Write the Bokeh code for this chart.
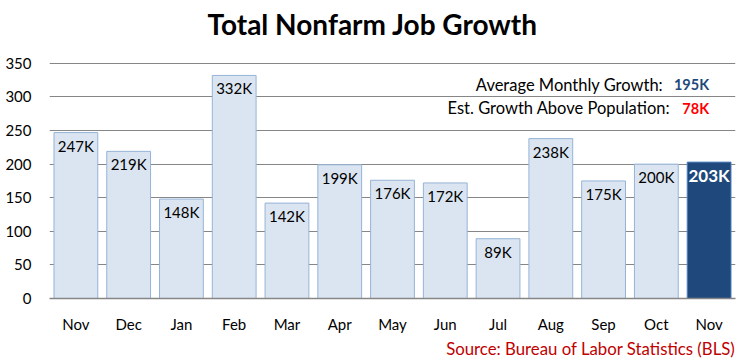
from bokeh.plotting import figure
from bokeh.models import ColumnDataSource, Range1d, FixedTicker, Label, Title
from bokeh.core.properties import value
from bokeh.embed import file_html
from bokeh.resources import INLINE

months = ["Nov", "Dec", "Jan", "Feb", "Mar", "Apr", "May", "Jun", "Jul", "Aug", "Sep", "Oct", "Nov"]
jobs = [247, 219, 148, 332, 142, 199, 176, 172, 89, 238, 175, 200, 203]
y_ticks = [0, 50, 100, 150, 200, 250, 300, 350]
avg_growth = "195K"
above_pop = "78K"

FONT = "Lato"
idx = list(range(len(months)))
labels = [f"{v}K" for v in jobs]

prev = ColumnDataSource(dict(x=idx[:-1], top=jobs[:-1], lab=labels[:-1]))
last = ColumnDataSource(dict(x=idx[-1:], top=jobs[-1:], lab=labels[-1:]))

p = figure(width=741, height=359, output_backend="svg", toolbar_location=None,
           x_range=Range1d(-0.5, len(months) - 0.5), y_range=Range1d(0, 384),
           min_border_left=49, min_border_right=6, min_border_top=40, min_border_bottom=61)
p.outline_line_color = None
p.background_fill_color = "white"

p.title.text = "Total Nonfarm Job Growth"
p.title.text_font = FONT
p.title.text_font_size = "28px"
p.title.text_font_style = "bold"
p.title.align = "left"
p.title.offset = 158
p.title.standoff = 0
p.title.text_color = "black"

p.vbar(x="x", top="top", width=0.83, source=prev, fill_color="#DBE5F1", line_color="#95B3D7", line_width=1)
p.vbar(x="x", top="top", width=0.83, source=last, fill_color="#1F497D", line_color="#4F81BD", line_width=1)

p.text(x="x", y="top", text="lab", source=prev, text_align="center", text_baseline="top", y_offset=4,
       text_font=value(FONT), text_font_size="15px", text_color="black")
p.text(x="x", y="top", text="lab", source=last, text_align="center", text_baseline="top", y_offset=3,
       text_font=value(FONT), text_font_size="17px", text_font_style="bold", text_color="white")

p.xaxis.ticker = FixedTicker(ticks=idx)
p.xaxis.major_label_overrides = {i: m for i, m in enumerate(months)}
p.xaxis.axis_line_color = "#868686"
p.xaxis.axis_line_width = 1.5
p.xaxis.major_tick_line_color = None
p.xaxis.minor_tick_line_color = None
p.xaxis.major_label_standoff = 10
p.xaxis.major_label_text_font = FONT
p.xaxis.major_label_text_font_size = "15px"
p.xaxis.major_label_text_color = "black"

p.yaxis.ticker = FixedTicker(ticks=y_ticks)
p.yaxis.axis_line_color = None
p.yaxis.major_tick_line_color = None
p.yaxis.minor_tick_line_color = None
p.yaxis.major_label_standoff = 12
p.yaxis.major_label_text_font = FONT
p.yaxis.major_label_text_font_size = "15px"
p.yaxis.major_label_text_color = "black"

p.xgrid.grid_line_color = None
p.ygrid.ticker = FixedTicker(ticks=y_ticks)
p.ygrid.grid_line_color = "#868686"
p.ygrid.grid_line_width = 1

def add_label(x, y, text, color="black", bold=False, xoff=0, size="16.5px"):
    p.add_layout(Label(x=x, y=y, text=text, text_align="right", text_baseline="middle", x_offset=xoff,
                       text_font=FONT, text_font_size=size, text_color=color,
                       text_font_style="bold" if bold else "normal"))

xr = len(months) - 1
add_label(xr, 318, avg_growth, color="#1F497D", bold=True, size="14.5px")
add_label(xr, 318, "Average Monthly Growth:", xoff=-46)
add_label(xr, 283, above_pop, color="#FF0000", bold=True, size="14.5px")
add_label(xr, 283, "Est. Growth Above Population:", xoff=-39)

src = Title(text="Source: Bureau of Labor Statistics (BLS)", align="right", text_font=FONT,
            text_font_size="16.8px", text_font_style="normal", text_color="#C00000", standoff=0)
p.add_layout(src, "below")

open("out.html", "w").write(file_html(p, INLINE))
